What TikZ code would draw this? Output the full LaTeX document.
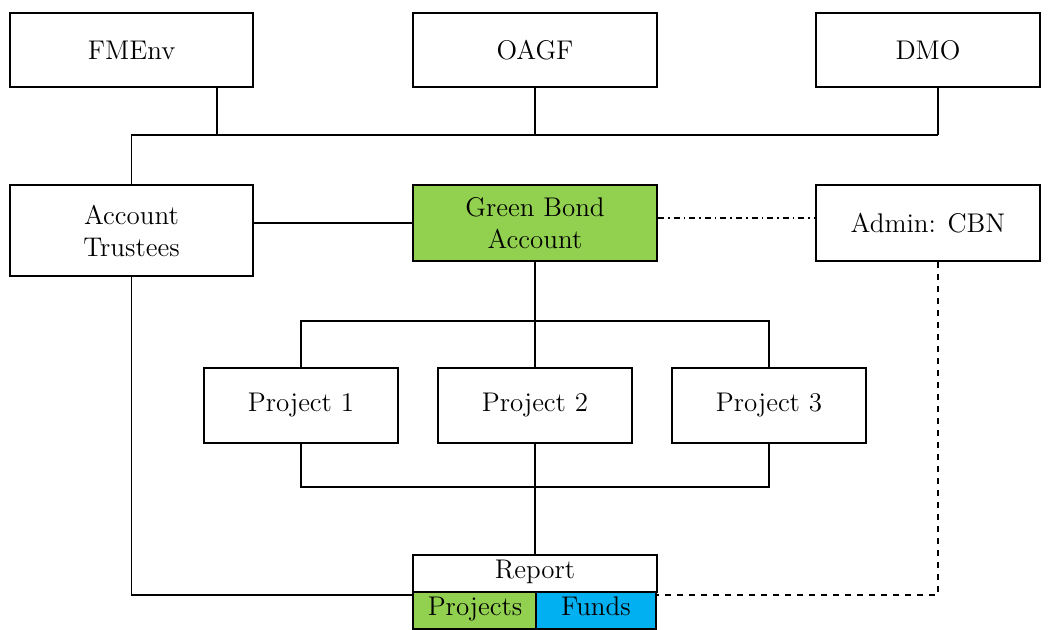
\documentclass[tikz,border=0pt]{standalone}
\usepackage{amsmath}
\usepackage{tikz}
\usetikzlibrary{positioning,shadows}

\definecolor{bondgreen}{HTML}{92D050}
\definecolor{fundblue}{HTML}{00B0F0}

\begin{document}
\begin{tikzpicture}[x=0.5pt,y=-0.5pt,
    box/.style={draw,line width=1pt,fill=white,align=center,
      font=\fontsize{13.5}{16}\selectfont,inner sep=0pt,
      drop shadow={shadow xshift=0.7pt,shadow yshift=-0.7pt,fill=black,opacity=1}},
    cell/.style={draw,line width=1pt,align=center,font=\fontsize{13.5}{16}\selectfont,
      inner sep=0pt,minimum height=18.5pt,text height=1.6ex,text depth=0.45ex},
    link/.style={line width=0.8pt}]
      \useasboundingbox (0,0) rectangle (1048,629);

      \node[box,minimum width=121.5pt,minimum height=37pt] (fmenv) at (131.5,50) {FMEnv};
      \node[box,minimum width=122pt,minimum height=37pt] (oagf) at (535,50) {OAGF};
      \node[box,minimum width=112pt,minimum height=37pt] (dmo) at (928,50) {DMO};

      \node[box,minimum width=121.5pt,minimum height=45.5pt] (trust) at (131.5,230.5) {Account\\Trustees};
      \node[box,fill=bondgreen,minimum width=122pt,minimum height=38pt] (gba) at (535,223) {Green Bond\\Account};
      \node[box,minimum width=112pt,minimum height=38pt] (cbn) at (928,223) {Admin: CBN};

      \node[box,minimum width=97pt,minimum height=37.5pt] (p1) at (301,405.5) {Project 1};
      \node[box,minimum width=97pt,minimum height=37.5pt] (p2) at (535,405.5) {Project 2};
      \node[box,minimum width=97pt,minimum height=37.5pt] (p3) at (769,405.5) {Project 3};

      \node[cell,fill=white,minimum width=122pt] (report) at (535,573.5) {Report};
      \node[cell,fill=bondgreen,minimum width=62pt] (proj) at (475,610.5) {Projects};
      \node[cell,fill=fundblue,minimum width=60pt] (funds) at (596,610.5) {Funds};

      \coordinate (bus) at (938,135);
      \coordinate (split) at (535,321);
      \coordinate (join) at (535,487);

      \draw[link] ([xshift=42.75pt]fmenv.south) -- ([xshift=42.75pt]fmenv.south |- bus);
      \draw[link] (oagf.south) -- (oagf.south |- bus);
      \draw[link] ([xshift=5pt]dmo.south) -- (bus);
      \draw[link] (trust.north) |- (bus);

      \draw[link] (trust.east |- gba) -- (gba.west);
      \draw[link,dash dot] ([yshift=2.5pt]gba.east) -- ([yshift=2.5pt]cbn.west);

      \draw[link] (gba.south) -- (p2.north);
      \draw[link] (p1.north) -- (p1.north |- split) -- (p3.north |- split) -- (p3.north);
      \draw[link] (p1.south) -- (p1.south |- join) -- (p3.south |- join) -- (p3.south);
      \draw[link] (p2.south) -- (report.north);

      \draw[link] (trust.south) |- ([yshift=-2pt]proj.north west);
      \draw[link,dashed] ([xshift=5pt]cbn.south) |- ([yshift=-2pt]funds.north east);
    \end{tikzpicture}
\end{document}
